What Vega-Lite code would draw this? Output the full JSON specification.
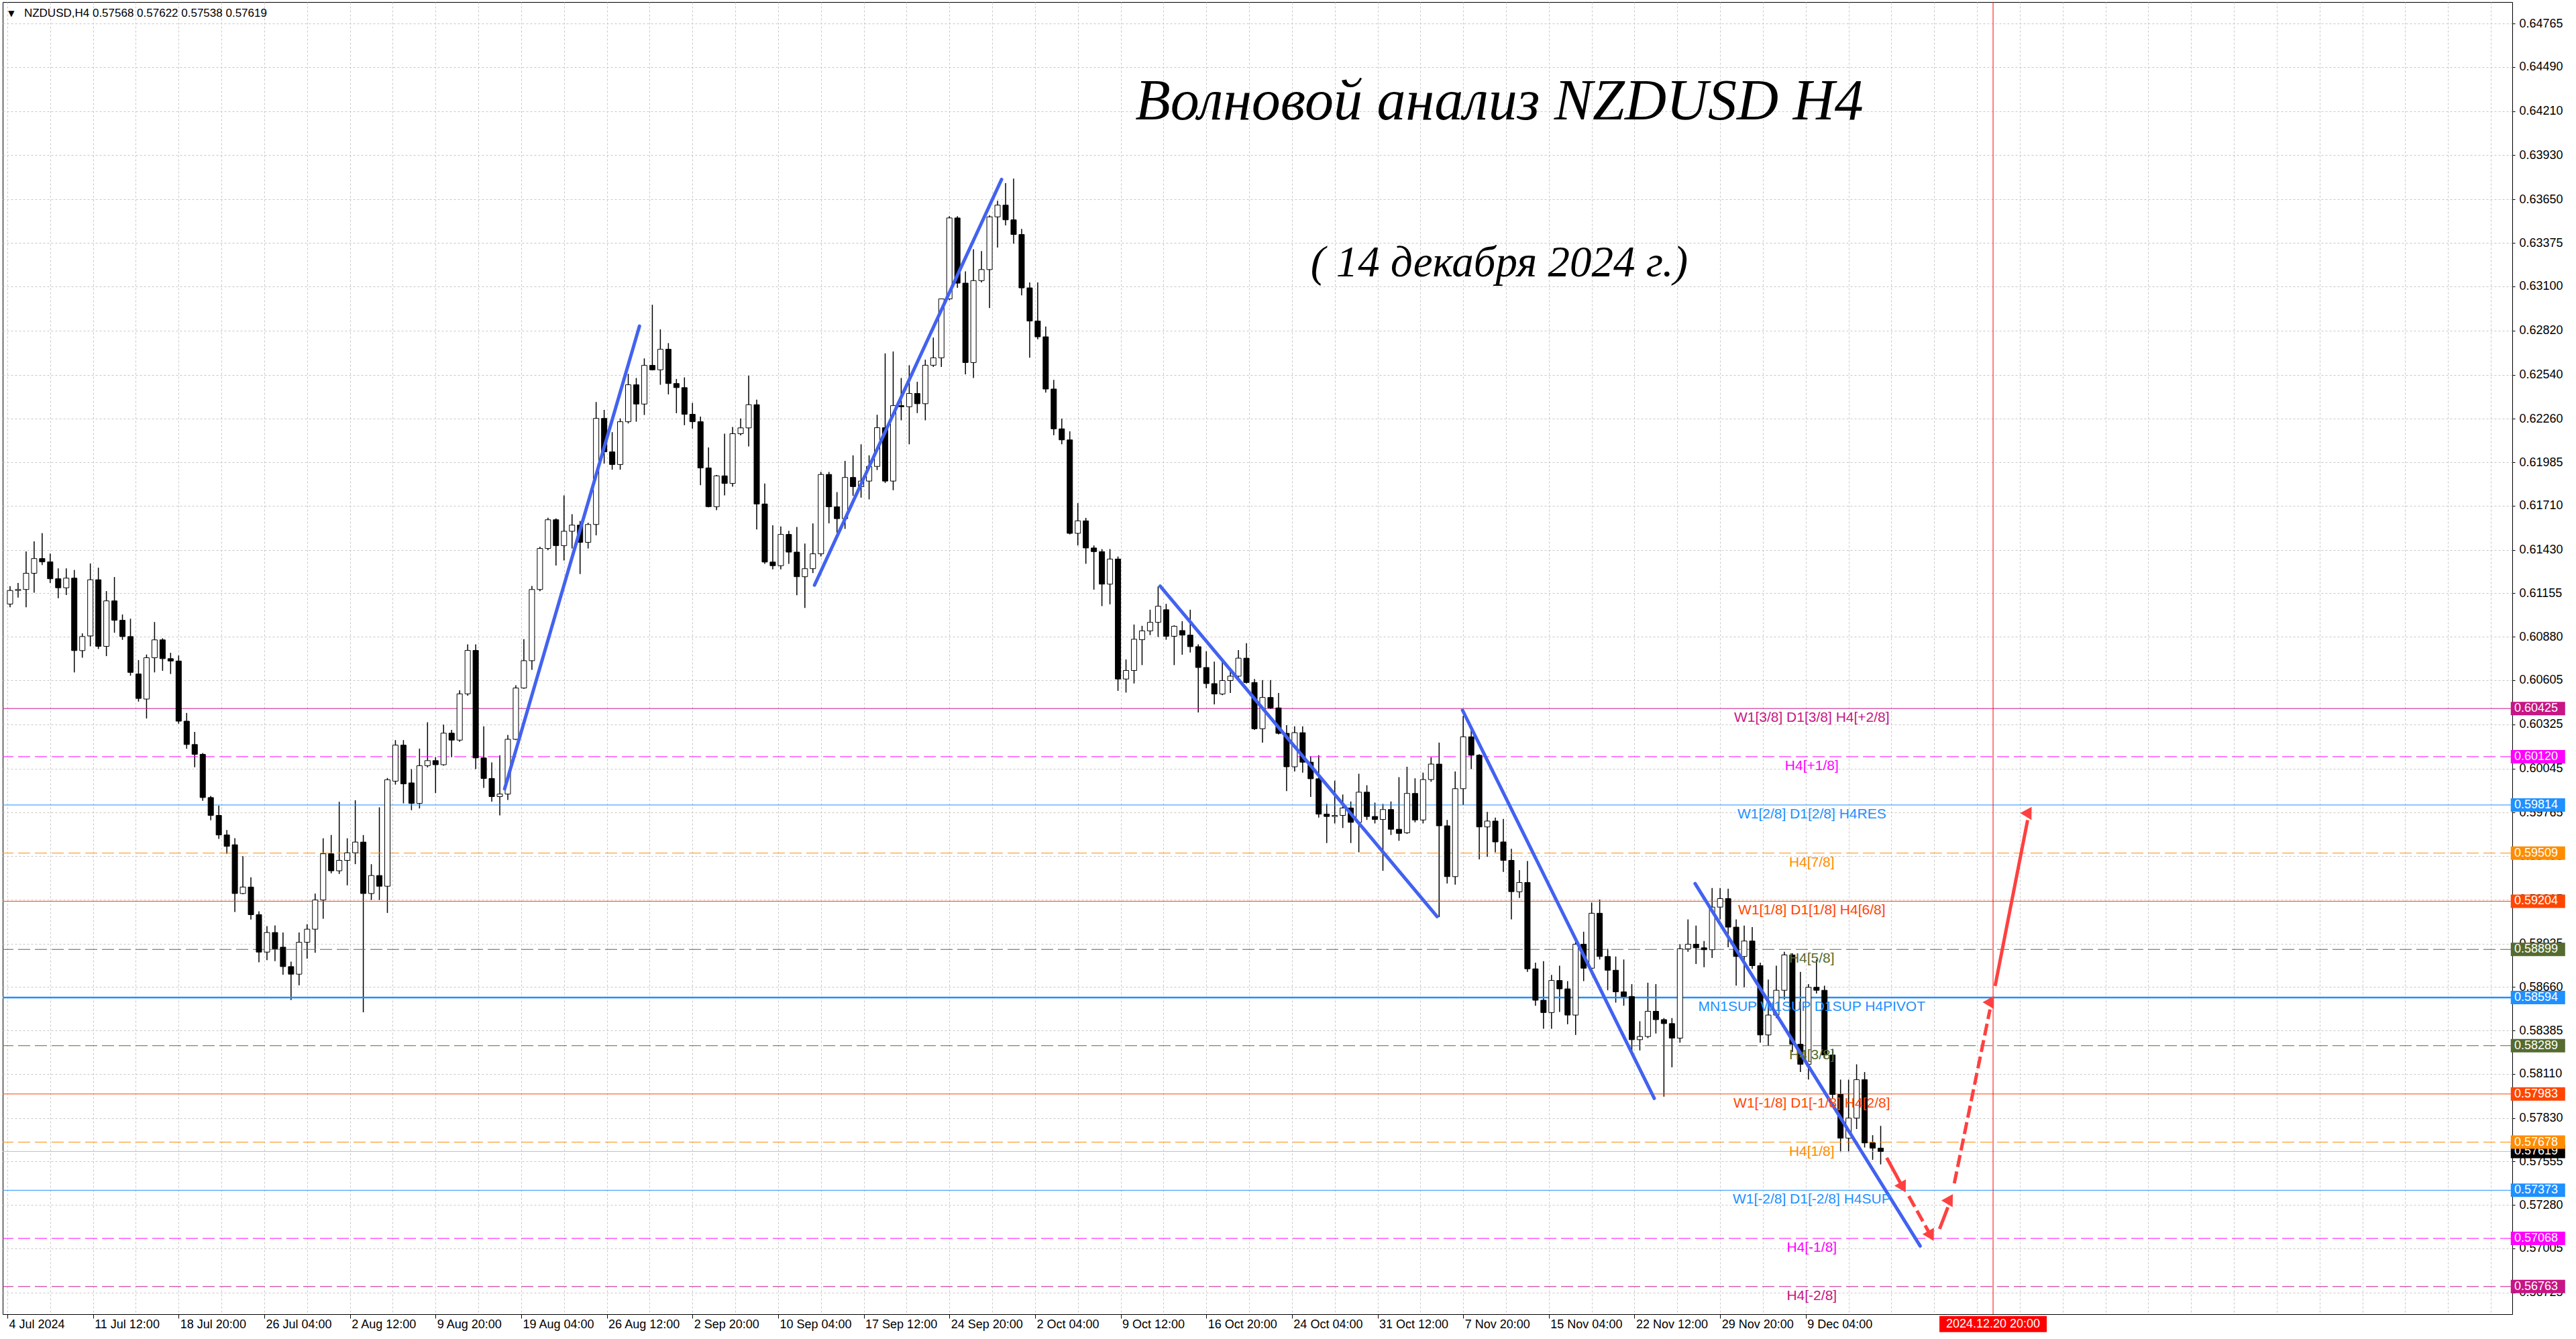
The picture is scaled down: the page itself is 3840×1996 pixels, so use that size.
{
"$schema":"https://vega.github.io/schema/vega-lite/v6.json",
"width":3741,"height":1956,
"autosize":{"type":"none"},
"padding":{"left":4,"top":3,"right":95,"bottom":37},
"background":"#FFFFFF",
"config":{"view":{"stroke":"#000000","strokeWidth":1},"font":"Liberation Sans"},
"datasets":{
"levels":[
{"p":0.60425,"lbl":"W1[3/8] D1[3/8] H4[+2/8]"},
{"p":0.60120,"lbl":"H4[+1/8]"},
{"p":0.59814,"lbl":"W1[2/8] D1[2/8] H4RES"},
{"p":0.59509,"lbl":"H4[7/8]"},
{"p":0.59204,"lbl":"W1[1/8] D1[1/8] H4[6/8]"},
{"p":0.58899,"lbl":"H4[5/8]"},
{"p":0.58594,"lbl":"MN1SUP W1SUP D1SUP H4PIVOT"},
{"p":0.58289,"lbl":"H4[3/8]"},
{"p":0.57983,"lbl":"W1[-1/8] D1[-1/8] H4[2/8]"},
{"p":0.57678,"lbl":"H4[1/8]"},
{"p":0.57373,"lbl":"W1[-2/8] D1[-2/8] H4SUP"},
{"p":0.57068,"lbl":"H4[-1/8]"},
{"p":0.56763,"lbl":"H4[-2/8]"}
],
"current":[{"p":0.57619}],
"now":[{"i":742,"t":"2024.12.20 20:00"}],
"trends":[
{"seg":"t1","i":185.8,"p":0.59916},{"seg":"t1","i":236.2,"p":0.62848},
{"seg":"t2","i":301.6,"p":0.61207},{"seg":"t2","i":371.5,"p":0.63777},
{"seg":"t3","i":430.75,"p":0.61201},{"seg":"t3","i":534.25,"p":0.59107},
{"seg":"t4","i":543.75,"p":0.60414},{"seg":"t4","i":615.4,"p":0.57955},
{"seg":"t5","i":630.65,"p":0.59316},{"seg":"t5","i":714.75,"p":0.57020}
],
"arrows":[
{"seg":"a1","i":702.25,"p":0.57579},{"seg":"a1","i":707.35,"p":0.57420},
{"seg":"a2","i":710.5,"p":0.57336},{"seg":"a2","i":717.8,"p":0.57114},
{"seg":"a3","i":722,"p":0.57128},{"seg":"a3","i":725.1,"p":0.57265},
{"seg":"a4","i":727.5,"p":0.57417},{"seg":"a4","i":740.85,"p":0.58519},
{"seg":"a5","i":742.75,"p":0.58667},{"seg":"a5","i":754.9,"p":0.59718}
],
"heads":[
{"seg":"a1","i":708.3,"p":0.57391},{"seg":"a2","i":718.78,"p":0.57084},{"seg":"a3","i":725.85,"p":0.57297},{"seg":"a4","i":741.25,"p":0.58553},{"seg":"a5","i":755.3,"p":0.59751}
],
"candles":[
{"i":1,"o":0.61087,"h":0.61200,"l":0.61066,"c":0.61173},
{"i":4,"o":0.61173,"h":0.61221,"l":0.61128,"c":0.61179},
{"i":7,"o":0.61179,"h":0.61420,"l":0.61066,"c":0.61282},
{"i":10,"o":0.61282,"h":0.61484,"l":0.61159,"c":0.61375},
{"i":13,"o":0.61375,"h":0.61536,"l":0.61334,"c":0.61354},
{"i":16,"o":0.61354,"h":0.61406,"l":0.61221,"c":0.61247},
{"i":19,"o":0.61247,"h":0.61313,"l":0.61124,"c":0.61190},
{"i":22,"o":0.61190,"h":0.61313,"l":0.61144,"c":0.61251},
{"i":25,"o":0.61251,"h":0.61303,"l":0.60654,"c":0.60792},
{"i":28,"o":0.60792,"h":0.60901,"l":0.60747,"c":0.60881},
{"i":31,"o":0.60885,"h":0.61344,"l":0.60819,"c":0.61241},
{"i":34,"o":0.61241,"h":0.61317,"l":0.60802,"c":0.60819},
{"i":37,"o":0.60819,"h":0.61169,"l":0.60757,"c":0.61107},
{"i":40,"o":0.61107,"h":0.61258,"l":0.60905,"c":0.60984},
{"i":43,"o":0.60984,"h":0.61021,"l":0.60860,"c":0.60881},
{"i":46,"o":0.60881,"h":0.60994,"l":0.60633,"c":0.60654},
{"i":49,"o":0.60644,"h":0.60732,"l":0.60469,"c":0.60489},
{"i":52,"o":0.60485,"h":0.60767,"l":0.60362,"c":0.60747},
{"i":55,"o":0.60747,"h":0.60973,"l":0.60654,"c":0.60860},
{"i":58,"o":0.60860,"h":0.60870,"l":0.60664,"c":0.60741},
{"i":61,"o":0.60741,"h":0.60778,"l":0.60644,"c":0.60726},
{"i":64,"o":0.60726,"h":0.60761,"l":0.60329,"c":0.60345},
{"i":67,"o":0.60345,"h":0.60397,"l":0.60170,"c":0.60197},
{"i":70,"o":0.60197,"h":0.60277,"l":0.60053,"c":0.60135},
{"i":73,"o":0.60135,"h":0.60143,"l":0.59840,"c":0.59861},
{"i":76,"o":0.59861,"h":0.59871,"l":0.59717,"c":0.59748},
{"i":79,"o":0.59748,"h":0.59809,"l":0.59599,"c":0.59624},
{"i":82,"o":0.59624,"h":0.59655,"l":0.59505,"c":0.59552},
{"i":85,"o":0.59562,"h":0.59603,"l":0.59136,"c":0.59253},
{"i":88,"o":0.59253,"h":0.59490,"l":0.59249,"c":0.59294},
{"i":91,"o":0.59294,"h":0.59356,"l":0.59088,"c":0.59119},
{"i":94,"o":0.59119,"h":0.59140,"l":0.58817,"c":0.58882},
{"i":97,"o":0.58882,"h":0.59047,"l":0.58831,"c":0.59006},
{"i":100,"o":0.59006,"h":0.59051,"l":0.58825,"c":0.58903},
{"i":103,"o":0.58913,"h":0.59006,"l":0.58738,"c":0.58790},
{"i":106,"o":0.58790,"h":0.58821,"l":0.58578,"c":0.58742},
{"i":109,"o":0.58742,"h":0.59006,"l":0.58672,"c":0.58944},
{"i":112,"o":0.58944,"h":0.59058,"l":0.58841,"c":0.59027},
{"i":115,"o":0.59027,"h":0.59253,"l":0.58878,"c":0.59212},
{"i":118,"o":0.59212,"h":0.59603,"l":0.59093,"c":0.59505},
{"i":121,"o":0.59505,"h":0.59624,"l":0.59381,"c":0.59397},
{"i":124,"o":0.59397,"h":0.59834,"l":0.59377,"c":0.59463},
{"i":127,"o":0.59463,"h":0.59603,"l":0.59305,"c":0.59511},
{"i":130,"o":0.59511,"h":0.59844,"l":0.59439,"c":0.59579},
{"i":133,"o":0.59579,"h":0.59624,"l":0.58501,"c":0.59253},
{"i":136,"o":0.59253,"h":0.59439,"l":0.59212,"c":0.59367},
{"i":139,"o":0.59367,"h":0.59799,"l":0.59212,"c":0.59299},
{"i":142,"o":0.59299,"h":0.59985,"l":0.59130,"c":0.59974},
{"i":145,"o":0.59965,"h":0.60225,"l":0.59943,"c":0.60193},
{"i":148,"o":0.60193,"h":0.60225,"l":0.59824,"c":0.59948},
{"i":151,"o":0.59954,"h":0.60041,"l":0.59781,"c":0.59824},
{"i":154,"o":0.59824,"h":0.60171,"l":0.59792,"c":0.60063},
{"i":157,"o":0.60063,"h":0.60338,"l":0.60052,"c":0.60095},
{"i":160,"o":0.60095,"h":0.60117,"l":0.59889,"c":0.60069},
{"i":163,"o":0.60069,"h":0.60323,"l":0.60063,"c":0.60269},
{"i":166,"o":0.60269,"h":0.60290,"l":0.60117,"c":0.60225},
{"i":169,"o":0.60225,"h":0.60540,"l":0.60214,"c":0.60518},
{"i":172,"o":0.60518,"h":0.60832,"l":0.60507,"c":0.60793},
{"i":175,"o":0.60793,"h":0.60832,"l":0.60041,"c":0.60112},
{"i":178,"o":0.60112,"h":0.60312,"l":0.59922,"c":0.59982},
{"i":181,"o":0.59982,"h":0.60084,"l":0.59835,"c":0.59867},
{"i":184,"o":0.59867,"h":0.60128,"l":0.59748,"c":0.59883},
{"i":187,"o":0.59883,"h":0.60258,"l":0.59846,"c":0.60230},
{"i":190,"o":0.60230,"h":0.60572,"l":0.60225,"c":0.60555},
{"i":193,"o":0.60555,"h":0.60865,"l":0.60550,"c":0.60728},
{"i":196,"o":0.60728,"h":0.61201,"l":0.60670,"c":0.61179},
{"i":199,"o":0.61179,"h":0.61450,"l":0.61168,"c":0.61439},
{"i":202,"o":0.61439,"h":0.61634,"l":0.61429,"c":0.61621},
{"i":205,"o":0.61621,"h":0.61630,"l":0.61331,"c":0.61457},
{"i":208,"o":0.61457,"h":0.61775,"l":0.61363,"c":0.61548},
{"i":211,"o":0.61548,"h":0.61656,"l":0.61439,"c":0.61587},
{"i":214,"o":0.61587,"h":0.61613,"l":0.61277,"c":0.61478},
{"i":217,"o":0.61478,"h":0.61602,"l":0.61439,"c":0.61591},
{"i":220,"o":0.61591,"h":0.62367,"l":0.61522,"c":0.62263},
{"i":223,"o":0.62263,"h":0.62317,"l":0.61977,"c":0.62051},
{"i":226,"o":0.62051,"h":0.62176,"l":0.61938,"c":0.61971},
{"i":229,"o":0.61971,"h":0.62263,"l":0.61938,"c":0.62242},
{"i":232,"o":0.62242,"h":0.62545,"l":0.62231,"c":0.62476},
{"i":235,"o":0.62476,"h":0.62519,"l":0.62242,"c":0.62354},
{"i":238,"o":0.62354,"h":0.62643,"l":0.62285,"c":0.62599},
{"i":241,"o":0.62599,"h":0.62983,"l":0.62567,"c":0.62571},
{"i":244,"o":0.62571,"h":0.62827,"l":0.62476,"c":0.62701},
{"i":247,"o":0.62701,"h":0.62740,"l":0.62415,"c":0.62484},
{"i":250,"o":0.62484,"h":0.62513,"l":0.62296,"c":0.62458},
{"i":253,"o":0.62458,"h":0.62523,"l":0.62220,"c":0.62289},
{"i":256,"o":0.62289,"h":0.62361,"l":0.62198,"c":0.62242},
{"i":259,"o":0.62242,"h":0.62274,"l":0.61840,"c":0.61949},
{"i":262,"o":0.61949,"h":0.62079,"l":0.61700,"c":0.61704},
{"i":265,"o":0.61704,"h":0.61905,"l":0.61682,"c":0.61899},
{"i":268,"o":0.61899,"h":0.62166,"l":0.61775,"c":0.61851},
{"i":271,"o":0.61851,"h":0.62209,"l":0.61830,"c":0.62166},
{"i":274,"o":0.62166,"h":0.62263,"l":0.62155,"c":0.62203},
{"i":277,"o":0.62203,"h":0.62534,"l":0.62085,"c":0.62350},
{"i":280,"o":0.62350,"h":0.62382,"l":0.61559,"c":0.61721},
{"i":283,"o":0.61721,"h":0.61851,"l":0.61342,"c":0.61353},
{"i":286,"o":0.61353,"h":0.61586,"l":0.61307,"c":0.61330},
{"i":289,"o":0.61330,"h":0.61579,"l":0.61307,"c":0.61528},
{"i":292,"o":0.61528,"h":0.61551,"l":0.61342,"c":0.61416},
{"i":295,"o":0.61416,"h":0.61575,"l":0.61143,"c":0.61260},
{"i":298,"o":0.61260,"h":0.61470,"l":0.61062,"c":0.61311},
{"i":301,"o":0.61311,"h":0.61598,"l":0.61283,"c":0.61405},
{"i":304,"o":0.61405,"h":0.61924,"l":0.61388,"c":0.61908},
{"i":307,"o":0.61908,"h":0.61924,"l":0.61598,"c":0.61703},
{"i":310,"o":0.61703,"h":0.61796,"l":0.61540,"c":0.61628},
{"i":313,"o":0.61628,"h":0.61994,"l":0.61563,"c":0.61889},
{"i":316,"o":0.61889,"h":0.62029,"l":0.61773,"c":0.61831},
{"i":319,"o":0.61831,"h":0.62099,"l":0.61761,"c":0.61866},
{"i":322,"o":0.61866,"h":0.62029,"l":0.61750,"c":0.61959},
{"i":325,"o":0.61959,"h":0.62286,"l":0.61936,"c":0.62204},
{"i":328,"o":0.62204,"h":0.62675,"l":0.61854,"c":0.61866},
{"i":331,"o":0.61866,"h":0.62687,"l":0.61808,"c":0.62344},
{"i":334,"o":0.62344,"h":0.62519,"l":0.62251,"c":0.62337},
{"i":337,"o":0.62337,"h":0.62600,"l":0.62099,"c":0.62421},
{"i":340,"o":0.62421,"h":0.62495,"l":0.62297,"c":0.62356},
{"i":343,"o":0.62356,"h":0.62635,"l":0.62251,"c":0.62600},
{"i":346,"o":0.62600,"h":0.62775,"l":0.62589,"c":0.62647},
{"i":349,"o":0.62647,"h":0.63020,"l":0.62589,"c":0.63020},
{"i":352,"o":0.63020,"h":0.63544,"l":0.63013,"c":0.63533},
{"i":355,"o":0.63533,"h":0.63544,"l":0.63090,"c":0.63120},
{"i":358,"o":0.63120,"h":0.63195,"l":0.62542,"c":0.62617},
{"i":361,"o":0.62617,"h":0.63335,"l":0.62519,"c":0.63136},
{"i":364,"o":0.63136,"h":0.63323,"l":0.63125,"c":0.63206},
{"i":367,"o":0.63206,"h":0.63549,"l":0.62962,"c":0.63540},
{"i":370,"o":0.63540,"h":0.63642,"l":0.63346,"c":0.63614},
{"i":373,"o":0.63614,"h":0.63754,"l":0.63486,"c":0.63521},
{"i":376,"o":0.63521,"h":0.63782,"l":0.63370,"c":0.63428},
{"i":379,"o":0.63428,"h":0.63463,"l":0.63043,"c":0.63090},
{"i":382,"o":0.63090,"h":0.63125,"l":0.62647,"c":0.62880},
{"i":385,"o":0.62880,"h":0.63125,"l":0.62764,"c":0.62780},
{"i":388,"o":0.62780,"h":0.62845,"l":0.62426,"c":0.62449},
{"i":391,"o":0.62449,"h":0.62507,"l":0.62157,"c":0.62197},
{"i":394,"o":0.62197,"h":0.62262,"l":0.62099,"c":0.62127},
{"i":397,"o":0.62127,"h":0.62181,"l":0.61528,"c":0.61535},
{"i":400,"o":0.61535,"h":0.61726,"l":0.61458,"c":0.61614},
{"i":403,"o":0.61614,"h":0.61633,"l":0.61342,"c":0.61442},
{"i":406,"o":0.61442,"h":0.61458,"l":0.61178,"c":0.61419},
{"i":409,"o":0.61419,"h":0.61435,"l":0.61074,"c":0.61213},
{"i":412,"o":0.61213,"h":0.61435,"l":0.61085,"c":0.61372},
{"i":415,"o":0.61372,"h":0.61388,"l":0.60537,"c":0.60612},
{"i":418,"o":0.60612,"h":0.60736,"l":0.60526,"c":0.60666},
{"i":421,"o":0.60666,"h":0.60957,"l":0.60584,"c":0.60864},
{"i":424,"o":0.60861,"h":0.60949,"l":0.60700,"c":0.60917},
{"i":427,"o":0.60917,"h":0.61051,"l":0.60890,"c":0.60971},
{"i":430,"o":0.60971,"h":0.61198,"l":0.60878,"c":0.61073},
{"i":433,"o":0.61051,"h":0.61088,"l":0.60861,"c":0.60883},
{"i":436,"o":0.60883,"h":0.60952,"l":0.60700,"c":0.60946},
{"i":439,"o":0.60919,"h":0.60978,"l":0.60766,"c":0.60890},
{"i":442,"o":0.60890,"h":0.61051,"l":0.60780,"c":0.60817},
{"i":445,"o":0.60817,"h":0.60832,"l":0.60400,"c":0.60685},
{"i":448,"o":0.60685,"h":0.60788,"l":0.60553,"c":0.60583},
{"i":451,"o":0.60583,"h":0.60722,"l":0.60451,"c":0.60517},
{"i":454,"o":0.60517,"h":0.60729,"l":0.60510,"c":0.60602},
{"i":457,"o":0.60602,"h":0.60678,"l":0.60524,"c":0.60630},
{"i":460,"o":0.60630,"h":0.60795,"l":0.60605,"c":0.60744},
{"i":463,"o":0.60744,"h":0.60839,"l":0.60583,"c":0.60590},
{"i":466,"o":0.60590,"h":0.60612,"l":0.60290,"c":0.60297},
{"i":469,"o":0.60297,"h":0.60605,"l":0.60209,"c":0.60495},
{"i":472,"o":0.60495,"h":0.60605,"l":0.60422,"c":0.60429},
{"i":475,"o":0.60429,"h":0.60524,"l":0.60261,"c":0.60268},
{"i":478,"o":0.60268,"h":0.60319,"l":0.59902,"c":0.60056},
{"i":481,"o":0.60056,"h":0.60312,"l":0.60026,"c":0.60272},
{"i":484,"o":0.60272,"h":0.60312,"l":0.60019,"c":0.60085},
{"i":487,"o":0.60085,"h":0.60122,"l":0.59865,"c":0.59980},
{"i":490,"o":0.59980,"h":0.60129,"l":0.59734,"c":0.59756},
{"i":493,"o":0.59756,"h":0.59821,"l":0.59573,"c":0.59741},
{"i":496,"o":0.59741,"h":0.59968,"l":0.59697,"c":0.59748},
{"i":499,"o":0.59748,"h":0.59880,"l":0.59668,"c":0.59795},
{"i":502,"o":0.59795,"h":0.59836,"l":0.59573,"c":0.59704},
{"i":505,"o":0.59704,"h":0.60012,"l":0.59514,"c":0.59895},
{"i":508,"o":0.59895,"h":0.59939,"l":0.59719,"c":0.59741},
{"i":511,"o":0.59741,"h":0.59829,"l":0.59697,"c":0.59722},
{"i":514,"o":0.59722,"h":0.59821,"l":0.59397,"c":0.59785},
{"i":517,"o":0.59785,"h":0.59836,"l":0.59624,"c":0.59660},
{"i":520,"o":0.59660,"h":0.59990,"l":0.59587,"c":0.59634},
{"i":523,"o":0.59638,"h":0.60056,"l":0.59631,"c":0.59887},
{"i":526,"o":0.59887,"h":0.59983,"l":0.59704,"c":0.59719},
{"i":529,"o":0.59719,"h":0.60019,"l":0.59697,"c":0.59975},
{"i":532,"o":0.59975,"h":0.60117,"l":0.59961,"c":0.60073},
{"i":535,"o":0.60073,"h":0.60209,"l":0.59104,"c":0.59682},
{"i":538,"o":0.59682,"h":0.59719,"l":0.59316,"c":0.59360},
{"i":541,"o":0.59360,"h":0.60026,"l":0.59309,"c":0.59917},
{"i":544,"o":0.59917,"h":0.60378,"l":0.59814,"c":0.60246},
{"i":547,"o":0.60246,"h":0.60290,"l":0.60041,"c":0.60129},
{"i":550,"o":0.60129,"h":0.60136,"l":0.59470,"c":0.59675},
{"i":553,"o":0.59675,"h":0.59770,"l":0.59485,"c":0.59712},
{"i":556,"o":0.59712,"h":0.59734,"l":0.59514,"c":0.59580},
{"i":559,"o":0.59580,"h":0.59726,"l":0.59390,"c":0.59463},
{"i":562,"o":0.59463,"h":0.59536,"l":0.59089,"c":0.59265},
{"i":565,"o":0.59264,"h":0.59401,"l":0.59225,"c":0.59323},
{"i":568,"o":0.59323,"h":0.59459,"l":0.58757,"c":0.58776},
{"i":571,"o":0.58776,"h":0.58815,"l":0.58542,"c":0.58577},
{"i":574,"o":0.58577,"h":0.58825,"l":0.58396,"c":0.58499},
{"i":577,"o":0.58499,"h":0.58737,"l":0.58396,"c":0.58702},
{"i":580,"o":0.58702,"h":0.58796,"l":0.58503,"c":0.58649},
{"i":583,"o":0.58649,"h":0.58698,"l":0.58425,"c":0.58483},
{"i":586,"o":0.58483,"h":0.58971,"l":0.58357,"c":0.58932},
{"i":589,"o":0.58932,"h":0.59011,"l":0.58698,"c":0.58780},
{"i":592,"o":0.58780,"h":0.59196,"l":0.58737,"c":0.59128},
{"i":595,"o":0.59128,"h":0.59215,"l":0.58835,"c":0.58854},
{"i":598,"o":0.58854,"h":0.58903,"l":0.58640,"c":0.58767},
{"i":601,"o":0.58767,"h":0.58854,"l":0.58562,"c":0.58630},
{"i":604,"o":0.58630,"h":0.58835,"l":0.58542,"c":0.58601},
{"i":607,"o":0.58601,"h":0.58679,"l":0.58249,"c":0.58327},
{"i":610,"o":0.58327,"h":0.58444,"l":0.58259,"c":0.58347},
{"i":613,"o":0.58347,"h":0.58688,"l":0.58337,"c":0.58507},
{"i":616,"o":0.58507,"h":0.58679,"l":0.58366,"c":0.58454},
{"i":619,"o":0.58454,"h":0.58464,"l":0.57966,"c":0.58429},
{"i":622,"o":0.58429,"h":0.58464,"l":0.58152,"c":0.58337},
{"i":625,"o":0.58337,"h":0.58932,"l":0.58308,"c":0.58903},
{"i":628,"o":0.58903,"h":0.59089,"l":0.58884,"c":0.58932},
{"i":631,"o":0.58932,"h":0.59050,"l":0.58806,"c":0.58909},
{"i":634,"o":0.58909,"h":0.58952,"l":0.58786,"c":0.58897},
{"i":637,"o":0.58897,"h":0.59288,"l":0.58845,"c":0.59167},
{"i":640,"o":0.59167,"h":0.59288,"l":0.59089,"c":0.59221},
{"i":643,"o":0.59221,"h":0.59284,"l":0.58913,"c":0.59040},
{"i":646,"o":0.59040,"h":0.59089,"l":0.58669,"c":0.58854},
{"i":649,"o":0.58854,"h":0.59050,"l":0.58659,"c":0.58952},
{"i":652,"o":0.58952,"h":0.59040,"l":0.58776,"c":0.58796},
{"i":655,"o":0.58796,"h":0.58815,"l":0.58308,"c":0.58357},
{"i":658,"o":0.58357,"h":0.58708,"l":0.58288,"c":0.58483},
{"i":661,"o":0.58483,"h":0.58796,"l":0.58464,"c":0.58640},
{"i":664,"o":0.58640,"h":0.58884,"l":0.58581,"c":0.58864},
{"i":667,"o":0.58864,"h":0.58874,"l":0.58249,"c":0.58298},
{"i":670,"o":0.58298,"h":0.58757,"l":0.58122,"c":0.58171},
{"i":673,"o":0.58171,"h":0.58679,"l":0.58074,"c":0.58659},
{"i":676,"o":0.58659,"h":0.58835,"l":0.58620,"c":0.58640},
{"i":679,"o":0.58640,"h":0.58669,"l":0.58210,"c":0.58230},
{"i":682,"o":0.58230,"h":0.58269,"l":0.57956,"c":0.57980},
{"i":685,"o":0.57980,"h":0.58074,"l":0.57615,"c":0.57703},
{"i":688,"o":0.57703,"h":0.58074,"l":0.57615,"c":0.57830},
{"i":691,"o":0.57830,"h":0.58171,"l":0.57761,"c":0.58074},
{"i":694,"o":0.58074,"h":0.58122,"l":0.57644,"c":0.57673},
{"i":697,"o":0.57673,"h":0.57722,"l":0.57566,"c":0.57640},
{"i":700,"o":0.57640,"h":0.57781,"l":0.57537,"c":0.57619}
]
},
"layer":[
{"data":{"name":"candles"},
 "mark":{"type":"rule","color":"#000000","strokeWidth":1.5},
 "encoding":{
  "x":{"field":"i","type":"quantitative","scale":{"domain":[-0.5,934.75],"nice":false,"zero":false},
   "axis":{"values":[0,16,32,48,64,80,96,112,128,144,160,176,192,208,224,240,256,272,288,304,320,336,352,368,384,400,416,432,448,464,480,496,512,528,544,560,576,592,608,624,640,656,672,688,704,720,736,752,768,784,800,816,832,848,864,880,896,912,928],
    "title":null,"orient":"bottom","domain":false,"grid":true,"gridColor":"#C8C8C8","gridDash":[3,3],"gridWidth":1,
    "ticks":true,"tickSize":6,"tickColor":"#000000",
    "tickOpacity":{"condition":{"test":"datum.value % 32 === 0 && datum.value <= 672","value":1},"value":0},
    "labelExpr":"datum.value % 32 === 0 && datum.value <= 672 ? ['4 Jul 2024','11 Jul 12:00','18 Jul 20:00','26 Jul 04:00','2 Aug 12:00','9 Aug 20:00','19 Aug 04:00','26 Aug 12:00','2 Sep 20:00','10 Sep 04:00','17 Sep 12:00','24 Sep 20:00','2 Oct 04:00','9 Oct 12:00','16 Oct 20:00','24 Oct 04:00','31 Oct 12:00','7 Nov 20:00','15 Nov 04:00','22 Nov 12:00','29 Nov 20:00','9 Dec 04:00'][datum.value / 32] : ''",
    "labelAlign":"left","labelBaseline":"top","labelPadding":0,"labelOffset":2,"labelFont":"Liberation Sans","labelFontSize":18,"labelColor":"#000000",
    "labelOverlap":false,"labelFlush":false,"labelBound":false}},
  "y":{"field":"l","type":"quantitative","scale":{"domain":[0.56588,0.64901],"nice":false,"zero":false},
   "axis":{"values":[0.64765,0.6449,0.6421,0.6393,0.6365,0.63375,0.631,0.6282,0.6254,0.6226,0.61985,0.6171,0.6143,0.61155,0.6088,0.60605,0.60325,0.60045,0.59765,0.5949,0.59215,0.58935,0.5866,0.58385,0.5811,0.5783,0.57555,0.5728,0.57005,0.56725],
    "title":null,"orient":"right","domain":false,"grid":true,"gridColor":"#C8C8C8","gridDash":[3,3],"gridWidth":1,
    "ticks":true,"tickSize":4,"tickColor":"#000000","labelPadding":6,"format":".5f",
    "labelFont":"Liberation Sans","labelFontSize":18,"labelColor":"#000000","labelOverlap":false,"labelFlush":false,"labelBound":false}},
  "y2":{"field":"h"}
 }},
{"data":{"name":"levels"},
 "mark":{"type":"rule","strokeWidth":1},
 "encoding":{
  "y":{"field":"p","type":"quantitative","scale":{"domain":[0.56588,0.64901],"nice":false,"zero":false}},
  "color":{"field":"lbl","type":"nominal","legend":null,"scale":{"domain":["W1[3/8] D1[3/8] H4[+2/8]","H4[+1/8]","W1[2/8] D1[2/8] H4RES","H4[7/8]","W1[1/8] D1[1/8] H4[6/8]","H4[5/8]","MN1SUP W1SUP D1SUP H4PIVOT","H4[3/8]","W1[-1/8] D1[-1/8] H4[2/8]","H4[1/8]","W1[-2/8] D1[-2/8] H4SUP","H4[-1/8]","H4[-2/8]"],"range":["#C71585","#FF00FF","#1E90FF","#FF8C00","#FF4500","#556B2F","#1E90FF","#556B2F","#FF4500","#FF8C00","#1E90FF","#FF00FF","#C71585"]}},
  "strokeDash":{"field":"lbl","type":"nominal","legend":null,"scale":{"domain":["W1[3/8] D1[3/8] H4[+2/8]","H4[+1/8]","W1[2/8] D1[2/8] H4RES","H4[7/8]","W1[1/8] D1[1/8] H4[6/8]","H4[5/8]","MN1SUP W1SUP D1SUP H4PIVOT","H4[3/8]","W1[-1/8] D1[-1/8] H4[2/8]","H4[1/8]","W1[-2/8] D1[-2/8] H4SUP","H4[-1/8]","H4[-2/8]"],"range":[[1,0],[18,7],[1,0],[18,7],[1,0],[18,7],[1,0],[18,7],[1,0],[18,7],[1,0],[18,7],[18,7]]}}
 }},
{"data":{"name":"levels"},
 "transform":[{"filter":"datum.lbl === 'MN1SUP W1SUP D1SUP H4PIVOT'"}],
 "mark":{"type":"rule","strokeWidth":2.5,"color":"#1E90FF"},
 "encoding":{"y":{"field":"p","type":"quantitative","scale":{"domain":[0.56588,0.64901],"nice":false,"zero":false}}}},
{"data":{"name":"current"},
 "mark":{"type":"rule","strokeWidth":1,"color":"#C0C0C0"},
 "encoding":{"y":{"field":"p","type":"quantitative","scale":{"domain":[0.56588,0.64901],"nice":false,"zero":false}}}},
{"data":{"name":"now"},
 "mark":{"type":"rule","strokeWidth":1,"color":"#FF0000"},
 "encoding":{"x":{"field":"i","type":"quantitative","scale":{"domain":[-0.5,934.75],"nice":false,"zero":false}}}},
{"data":{"name":"candles"},
 "mark":{"type":"bar","width":8,"stroke":"#000000","strokeWidth":1},
 "encoding":{
  "x":{"field":"i","type":"quantitative","scale":{"domain":[-0.5,934.75],"nice":false,"zero":false}},
  "y":{"field":"o","type":"quantitative","scale":{"domain":[0.56588,0.64901],"nice":false,"zero":false}},
  "y2":{"field":"c"},
  "fill":{"condition":{"test":"datum.c >= datum.o","value":"#FFFFFF"},"value":"#000000"}
 }},
{"data":{"name":"trends"},
 "mark":{"type":"line","color":"#4262F0","strokeWidth":5,"strokeCap":"round"},
 "encoding":{
  "x":{"field":"i","type":"quantitative","scale":{"domain":[-0.5,934.75],"nice":false,"zero":false}},
  "y":{"field":"p","type":"quantitative","scale":{"domain":[0.56588,0.64901],"nice":false,"zero":false}},
  "detail":{"field":"seg"}
 }},
{"data":{"name":"arrows"},
 "mark":{"type":"line","color":"#FF4040","strokeWidth":5,"strokeCap":"butt"},
 "encoding":{
  "x":{"field":"i","type":"quantitative","scale":{"domain":[-0.5,934.75],"nice":false,"zero":false}},
  "y":{"field":"p","type":"quantitative","scale":{"domain":[0.56588,0.64901],"nice":false,"zero":false}},
  "detail":{"field":"seg"},
  "strokeDash":{"field":"seg","type":"nominal","legend":null,"scale":{"domain":["a1","a2","a3","a4","a5"],"range":[[1,0],[15,8],[15,8],[1,0],[15,8]]}}
 }},
{"data":{"name":"heads"},
 "mark":{"type":"point","shape":"triangle-up","filled":true,"opacity":1,"color":"#FF4040","size":380,"strokeWidth":0},
 "encoding":{
  "x":{"field":"i","type":"quantitative","scale":{"domain":[-0.5,934.75],"nice":false,"zero":false}},
  "y":{"field":"p","type":"quantitative","scale":{"domain":[0.56588,0.64901],"nice":false,"zero":false}},
  "angle":{"field":"seg","type":"ordinal","legend":null,"scale":{"domain":["a1","a2","a3","a4","a5"],"range":[151,151,21,11.6,11.1]}}
 }},
{"data":{"name":"levels"},
 "mark":{"type":"text","align":"center","baseline":"top","dy":3,"font":"Liberation Sans","fontSize":21},
 "encoding":{
  "x":{"datum":674.25,"type":"quantitative","scale":{"domain":[-0.5,934.75],"nice":false,"zero":false}},
  "y":{"field":"p","type":"quantitative","scale":{"domain":[0.56588,0.64901],"nice":false,"zero":false}},
  "text":{"field":"lbl"},
  "color":{"field":"lbl","type":"nominal","legend":null,"scale":{"domain":["W1[3/8] D1[3/8] H4[+2/8]","H4[+1/8]","W1[2/8] D1[2/8] H4RES","H4[7/8]","W1[1/8] D1[1/8] H4[6/8]","H4[5/8]","MN1SUP W1SUP D1SUP H4PIVOT","H4[3/8]","W1[-1/8] D1[-1/8] H4[2/8]","H4[1/8]","W1[-2/8] D1[-2/8] H4SUP","H4[-1/8]","H4[-2/8]"],"range":["#C71585","#FF00FF","#1E90FF","#FF8C00","#FF4500","#556B2F","#1E90FF","#556B2F","#FF4500","#FF8C00","#1E90FF","#FF00FF","#C71585"]}}
 }},
{"data":{"name":"current"},
 "mark":{"type":"point","shape":"M-1,-0.247H1V0.247H-1Z","filled":true,"opacity":1,"size":6561,"strokeWidth":0,"color":"#000000"},
 "encoding":{
  "x":{"datum":945.6,"type":"quantitative","scale":{"domain":[-0.5,934.75],"nice":false,"zero":false}},
  "y":{"field":"p","type":"quantitative","scale":{"domain":[0.56588,0.64901],"nice":false,"zero":false}}
 }},
{"data":{"name":"current"},
 "mark":{"type":"text","align":"left","baseline":"middle","font":"Liberation Sans","fontSize":18,"color":"#FFFFFF"},
 "encoding":{
  "x":{"datum":936.75,"type":"quantitative","scale":{"domain":[-0.5,934.75],"nice":false,"zero":false}},
  "y":{"field":"p","type":"quantitative","scale":{"domain":[0.56588,0.64901],"nice":false,"zero":false}},
  "text":{"field":"p","type":"quantitative","format":".5f"}
 }},
{"data":{"name":"levels"},
 "mark":{"type":"point","shape":"M-1,-0.247H1V0.247H-1Z","filled":true,"opacity":1,"size":6561,"strokeWidth":0},
 "encoding":{
  "x":{"datum":945.6,"type":"quantitative","scale":{"domain":[-0.5,934.75],"nice":false,"zero":false}},
  "y":{"field":"p","type":"quantitative","scale":{"domain":[0.56588,0.64901],"nice":false,"zero":false}},
  "fill":{"field":"lbl","type":"nominal","legend":null,"scale":{"domain":["W1[3/8] D1[3/8] H4[+2/8]","H4[+1/8]","W1[2/8] D1[2/8] H4RES","H4[7/8]","W1[1/8] D1[1/8] H4[6/8]","H4[5/8]","MN1SUP W1SUP D1SUP H4PIVOT","H4[3/8]","W1[-1/8] D1[-1/8] H4[2/8]","H4[1/8]","W1[-2/8] D1[-2/8] H4SUP","H4[-1/8]","H4[-2/8]"],"range":["#C71585","#FF00FF","#1E90FF","#FF8C00","#FF4500","#556B2F","#1E90FF","#556B2F","#FF4500","#FF8C00","#1E90FF","#FF00FF","#C71585"]}}
 }},
{"data":{"name":"levels"},
 "mark":{"type":"text","align":"left","baseline":"middle","font":"Liberation Sans","fontSize":18,"color":"#FFFFFF"},
 "encoding":{
  "x":{"datum":936.75,"type":"quantitative","scale":{"domain":[-0.5,934.75],"nice":false,"zero":false}},
  "y":{"field":"p","type":"quantitative","scale":{"domain":[0.56588,0.64901],"nice":false,"zero":false}},
  "text":{"field":"p","type":"quantitative","format":".5f"}
 }},
{"data":{"name":"now"},
 "mark":{"type":"point","shape":"M-1,-0.15H1V0.15H-1Z","filled":true,"opacity":1,"size":25600,"strokeWidth":0,"color":"#FF0000"},
 "encoding":{
  "x":{"field":"i","type":"quantitative","scale":{"domain":[-0.5,934.75],"nice":false,"zero":false}},
  "y":{"datum":0.56525,"type":"quantitative","scale":{"domain":[0.56588,0.64901],"nice":false,"zero":false}}
 }},
{"data":{"name":"now"},
 "mark":{"type":"text","align":"center","baseline":"middle","font":"Liberation Sans","fontSize":18,"color":"#FFFFFF"},
 "encoding":{
  "x":{"field":"i","type":"quantitative","scale":{"domain":[-0.5,934.75],"nice":false,"zero":false}},
  "y":{"datum":0.56525,"type":"quantitative","scale":{"domain":[0.56588,0.64901],"nice":false,"zero":false}},
  "text":{"field":"t"}
 }},
{"data":{"values":[{}]},
 "mark":{"type":"text","text":"Волновой анализ NZDUSD H4","align":"center","baseline":"middle","font":"Liberation Serif","fontStyle":"italic","fontSize":86,"color":"#000000"},
 "encoding":{
  "x":{"datum":557.5,"type":"quantitative","scale":{"domain":[-0.5,934.75],"nice":false,"zero":false}},
  "y":{"datum":0.64268,"type":"quantitative","scale":{"domain":[0.56588,0.64901],"nice":false,"zero":false}}
 }},
{"data":{"values":[{}]},
 "mark":{"type":"text","text":"( 14 декабря 2024 г.)","align":"center","baseline":"middle","font":"Liberation Serif","fontStyle":"italic","fontSize":65,"color":"#000000"},
 "encoding":{
  "x":{"datum":557.5,"type":"quantitative","scale":{"domain":[-0.5,934.75],"nice":false,"zero":false}},
  "y":{"datum":0.63248,"type":"quantitative","scale":{"domain":[0.56588,0.64901],"nice":false,"zero":false}}
 }},
{"data":{"values":[{}]},
 "mark":{"type":"text","text":"▼","align":"center","baseline":"middle","font":"DejaVu Sans","fontSize":12,"color":"#000000"},
 "encoding":{
  "x":{"datum":1.5,"type":"quantitative","scale":{"domain":[-0.5,934.75],"nice":false,"zero":false}},
  "y":{"datum":0.64829,"type":"quantitative","scale":{"domain":[0.56588,0.64901],"nice":false,"zero":false}}
 }},
{"data":{"values":[{}]},
 "mark":{"type":"text","text":"NZDUSD,H4  0.57568 0.57622 0.57538 0.57619","align":"left","baseline":"middle","font":"Liberation Sans","fontSize":17,"color":"#000000"},
 "encoding":{
  "x":{"datum":6.25,"type":"quantitative","scale":{"domain":[-0.5,934.75],"nice":false,"zero":false}},
  "y":{"datum":0.64829,"type":"quantitative","scale":{"domain":[0.56588,0.64901],"nice":false,"zero":false}}
 }}
]
}
